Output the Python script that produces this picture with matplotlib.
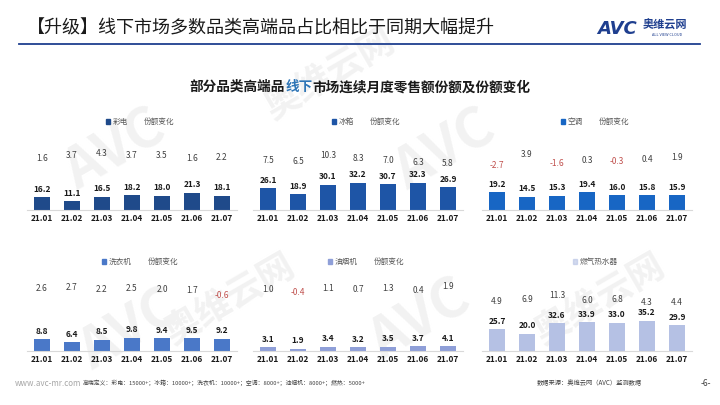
import matplotlib
matplotlib.use('Agg')
import matplotlib.pyplot as plt
from matplotlib.patches import Patch
from matplotlib.lines import Line2D

plt.rcParams['font.family'] = ['Noto Sans CJK SC', 'DejaVu Sans']

months = ['21.01', '21.02', '21.03', '21.04', '21.05', '21.06', '21.07']

tv_share = [16.2, 11.1, 16.5, 18.2, 18.0, 21.3, 18.1]
tv_change = [1.6, 3.7, 4.3, 3.7, 3.5, 1.6, 2.2]
fridge_share = [26.1, 18.9, 30.1, 32.2, 30.7, 32.3, 26.9]
fridge_change = [7.5, 6.5, 10.3, 8.3, 7.0, 6.3, 5.8]
ac_share = [19.2, 14.5, 15.3, 19.4, 16.0, 15.8, 15.9]
ac_change = [-2.7, 3.9, -1.6, 0.3, -0.3, 0.4, 1.9]
washer_share = [8.8, 6.4, 8.5, 9.8, 9.4, 9.5, 9.2]
washer_change = [2.6, 2.7, 2.2, 2.5, 2.0, 1.7, -0.6]
hood_share = [3.1, 1.9, 3.4, 3.2, 3.5, 3.7, 4.1]
hood_change = [1.0, -0.4, 1.1, 0.7, 1.3, 0.4, 1.9]
heater_share = [25.7, 20.0, 32.6, 33.9, 33.0, 35.2, 29.9]
heater_change = [4.9, 6.9, 11.3, 6.0, 6.8, 4.3, 4.4]

W, H = 720, 405
fig = plt.figure(figsize=(7.2, 4.05), dpi=100)
fig.patch.set_facecolor('white')


def fx(x):
    return x / W


def fy(y):
    return 1 - y / H


# faint watermarks on a background axes, below everything
bg = fig.add_axes([0, 0, 1, 1], zorder=-10)
bg.axis('off')
bg.set_xlim(0, W)
bg.set_ylim(H, 0)
wm = '#f2f2f2'
for (x, y, s, fs) in [(330, 75, '奥维云网', 26), (115, 150, 'AVC', 40), (445, 150, 'AVC', 40),
                      (230, 300, '奥维云网', 26), (420, 320, 'AVC', 40), (600, 300, '奥维云网', 26),
                      (130, 330, 'AVC', 40)]:
    bg.text(x, y, s, fontsize=fs, color=wm, rotation=30, ha='center', va='center',
            fontweight='bold')

# header
fig.text(fx(27), fy(28), '【升级】线下市场多数品类高端品占比相比于同期大幅提升', fontsize=13,
         color='#1a1a1a', ha='left', va='center')
fig.add_artist(Line2D([fx(19), fx(700)], [fy(44), fy(44)], color='#1f3f8f', lw=1.3))
fig.text(fx(597), fy(29), 'AVC', fontsize=13, color='#1f3f8f', fontweight='bold',
         fontstyle='italic', ha='left', va='center', family='DejaVu Sans')
fig.text(fx(643), fy(25), '奥维云网', fontsize=8, color='#1f3f8f', fontweight='bold',
         ha='left', va='center')
fig.text(fx(652), fy(35), 'ALL VIEW CLOUD', fontsize=2.8, color='#1f3f8f',
         ha='left', va='center')

# subtitle with blue highlight
parts = [('部分品类高端品', '#1a1a1a'), ('线下', '#2e75b6'), ('市场连续月度零售额份额及份额变化', '#1a1a1a')]
renderer = fig.canvas.get_renderer()
widths = []
for s, c in parts:
    t = fig.text(0, 0, s, fontsize=9.8, fontweight='bold')
    widths.append(t.get_window_extent(renderer).width)
    t.remove()
x0 = W / 2 - sum(widths) / 2
for (s, c), w in zip(parts, widths):
    fig.text(fx(x0), fy(87), s, fontsize=9.8, fontweight='bold', color=c, ha='left', va='center')
    x0 += w

# panels
panels = [
    ('彩电', tv_share, tv_change, '#1f4a8a', 27, 210, 125, (-26, 28), True),
    ('冰箱', fridge_share, fridge_change, '#1e55a6', 253, 210, 119, (-20.6, 35.6), True),
    ('空调', ac_share, ac_change, '#1866c4', 482, 210, 108, (-29.7, 30.3), True),
    ('洗衣机', washer_share, washer_change, '#4a78c8', 27, 351, 75, (-26, 19.5), True),
    ('油烟机', hood_share, hood_change, '#8f9fd8', 253, 351, 82, (-23.8, 16.2), True),
    ('燃气热水器', heater_share, heater_change, '#b5c1e4', 482, 351, 117, (-44.5, 55.5), False),
]

for name, share, change, color, left, base, ymax, chg_lim, show_chg in panels:
    ax = fig.add_axes([fx(left), fy(base), 210 / W, 100 / H])
    ax.set_facecolor('none')
    xs = range(len(months))
    bars = ax.bar(xs, share, width=0.55, color=color, zorder=2)
    ax.set_xlim(-0.5, 6.5)
    ax.set_ylim(0, ymax)
    ax.set_xticks(list(xs))
    ax.set_xticklabels(months, fontsize=6, fontweight='bold', color='#1a1a1a')
    ax.tick_params(axis='x', length=0, pad=3)
    ax.set_yticks([])
    for sp in ['top', 'left', 'right']:
        ax.spines[sp].set_visible(False)
    ax.spines['bottom'].set_color('#d9d9d9')
    ax.spines['bottom'].set_linewidth(0.8)
    for b, v in zip(bars, share):
        ax.annotate(f'{v:.1f}', (b.get_x() + b.get_width() / 2, v), xytext=(0, 2.5),
                    textcoords='offset points', ha='center', va='bottom', fontsize=6,
                    fontweight='bold', color='#1a1a1a')

    ax2 = ax.twinx()
    ax2.set_ylim(*chg_lim)
    ax2.axis('off')
    for i, v in enumerate(change):
        ax2.text(i, v, f'{v:.1f}', ha='center', va='center', fontsize=6,
                 color='#c0504d' if v < 0 else '#404040')

    cx = left + 105 + 8
    cy = 122 if base < 300 else 262
    if show_chg:
        handles = [Patch(color=color), Line2D([], [], color='none')]
        labels = [name, '份额变化']
        ncol = 2
    else:
        handles = [Patch(color=color, alpha=0.6)]
        labels = [name]
        ncol = 1
    ax.legend(handles, labels, loc='center', bbox_to_anchor=(fx(cx), fy(cy)),
              bbox_transform=fig.transFigure, ncol=ncol, frameon=False, fontsize=5.5,
              handlelength=0.6, handleheight=0.6, handletextpad=0.3, columnspacing=1.2,
              labelcolor='#595959')

# footer
fig.text(fx(15), fy(383), 'www.avc-mr.com', fontsize=5.8, color='#a6a6a6', ha='left', va='center')
fig.text(fx(83), fy(383), '高端定义：彩电：15000+；冰箱：10000+；洗衣机：10000+；空调：8000+；油烟机：8000+；燃热：5000+',
         fontsize=4.2, color='#404040', ha='left', va='center')
fig.text(fx(537), fy(383), '数据来源：奥维云网（AVC）监测数据', fontsize=4.5, color='#404040',
         ha='left', va='center')
fig.text(fx(706), fy(383), '-6-', fontsize=6, color='#404040', ha='center', va='center')

fig.savefig('out.png', dpi=100)
